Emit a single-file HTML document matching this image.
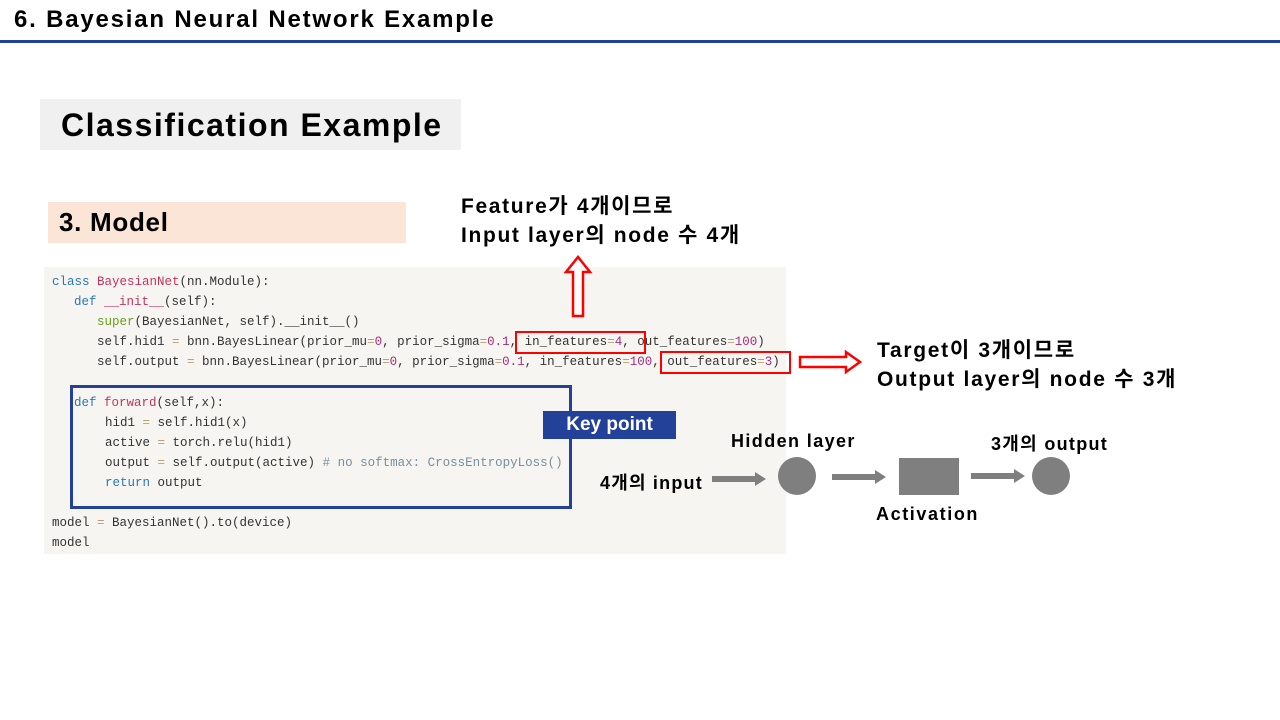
<!DOCTYPE html>
<html><head><meta charset="utf-8"><style>
body{margin:0;width:1280px;height:720px;position:relative;background:#fff;overflow:hidden;font-family:"Liberation Sans","Noto Sans CJK KR",sans-serif}
.a{position:absolute;white-space:nowrap}
.b{font-weight:bold;color:#000}
.code{position:absolute;left:44px;top:267px;width:742px;height:287px;background:#f6f5f2}
.l{position:absolute;left:0;font-family:"Liberation Mono",monospace;font-size:12.5px;color:#333;white-space:pre;line-height:14px}
.k{color:#2a78b5}.f{color:#c2345f}.s{color:#6aa01e}.n{color:#a0307a}.o{color:#b8a070}.c{color:#7790a0}
.sm{font-size:18px;letter-spacing:1.4px}
</style></head><body>
<div class="a b" style="left:14px;top:6px;font-size:24px;letter-spacing:1.8px">6. Bayesian Neural Network Example</div>
<div class="a" style="left:0;top:40px;width:1280px;height:3px;background:#24419a"></div>
<div class="a" style="left:40px;top:99px;width:421px;height:51px;background:#f0f0f0"></div>
<div class="a b" style="left:61px;top:107px;font-size:32px;letter-spacing:1.5px">Classification Example</div>
<div class="a" style="left:48px;top:202px;width:358px;height:41px;background:#fbe5d6"></div>
<div class="a b" style="left:59px;top:207px;font-size:26px;letter-spacing:0.7px">3. Model</div>
<div class="a b" style="left:461px;top:192px;font-size:21px;line-height:29px;letter-spacing:1.65px">Feature가 4개이므로<br>Input layer의 node 수 4개</div>
<div class="a b" style="left:877px;top:336px;font-size:21px;line-height:29px;letter-spacing:1.7px">Target이 3개이므로<br>Output layer의 node 수 3개</div>
<div class="code">
<div class="l" style="left:8px;top:8px"><span class="k">class</span> <span class="f">BayesianNet</span>(nn.Module):</div>
<div class="l" style="left:30px;top:28px"><span class="k">def</span> <span class="f">__init__</span>(self):</div>
<div class="l" style="left:53px;top:48px"><span class="s">super</span>(BayesianNet, self).__init__()</div>
<div class="l" style="left:53px;top:68px">self.hid1 <span class="o">=</span> bnn.BayesLinear(prior_mu<span class="o">=</span><span class="n">0</span>, prior_sigma<span class="o">=</span><span class="n">0.1</span>, in_features<span class="o">=</span><span class="n">4</span>, out_features<span class="o">=</span><span class="n">100</span>)</div>
<div class="l" style="left:53px;top:88px">self.output <span class="o">=</span> bnn.BayesLinear(prior_mu<span class="o">=</span><span class="n">0</span>, prior_sigma<span class="o">=</span><span class="n">0.1</span>, in_features<span class="o">=</span><span class="n">100</span>, out_features<span class="o">=</span><span class="n">3</span>)</div>
<div class="l" style="left:30px;top:129px"><span class="k">def</span> <span class="f">forward</span>(self,x):</div>
<div class="l" style="left:61px;top:149px">hid1 <span class="o">=</span> self.hid1(x)</div>
<div class="l" style="left:61px;top:169px">active <span class="o">=</span> torch.relu(hid1)</div>
<div class="l" style="left:61px;top:189px">output <span class="o">=</span> self.output(active) <span class="c"># no softmax: CrossEntropyLoss()</span></div>
<div class="l" style="left:61px;top:209px"><span class="k">return</span> output</div>
<div class="l" style="left:8px;top:249px">model <span class="o">=</span> BayesianNet().to(device)</div>
<div class="l" style="left:8px;top:269px">model</div>
</div>
<div class="a" style="left:515px;top:331px;width:127px;height:19px;border:2px solid #f00"></div>
<div class="a" style="left:660px;top:351px;width:127px;height:19px;border:2px solid #f00"></div>
<div class="a" style="left:70px;top:385px;width:496px;height:118px;border:3px solid #24419a"></div>
<div class="a" style="left:543px;top:411px;width:133px;height:28px;background:#24419a;color:#fff;font-weight:bold;font-size:19px;text-align:center;line-height:28px">Key point</div>
<svg class="a" style="left:0;top:0" width="1280" height="720">
<polygon points="573,316 573,272 566,272 578,257 590,272 583,272 583,316" fill="#fff" stroke="#f00" stroke-width="2.5"/>
<polygon points="800,357 846,357 846,352 860,362 846,372 846,367 800,367" fill="#fff" stroke="#f00" stroke-width="2.5"/>
<g fill="#7f7f7f">
<polygon points="712,476 755,476 755,472 766,479 755,486 755,482 712,482"/>
<polygon points="832,474 875,474 875,470 886,477 875,484 875,480 832,480"/>
<polygon points="971,473 1014,473 1014,469 1025,476 1014,483 1014,479 971,479"/>
<circle cx="797" cy="476" r="19"/>
<rect x="899" y="458" width="60" height="37"/>
<circle cx="1051" cy="476" r="19"/>
</g>
</svg>
<div class="a b sm" style="left:731px;top:431px">Hidden layer</div>
<div class="a b sm" style="left:600px;top:469px;letter-spacing:1.2px">4개의 input</div>
<div class="a b sm" style="left:991px;top:430px;letter-spacing:1.3px">3개의 output</div>
<div class="a b sm" style="left:876px;top:504px;letter-spacing:1.6px">Activation</div>
</body></html>
